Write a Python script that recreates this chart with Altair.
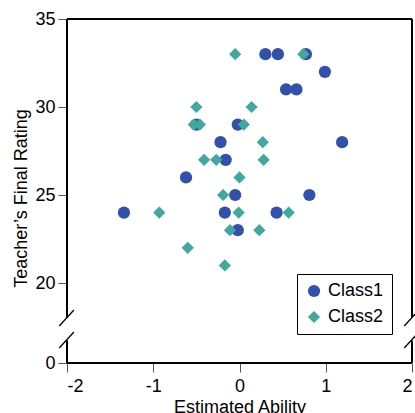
import altair as alt
import pandas as pd

# ---- data ----
class1_x = [0.30, 0.445, 0.77, 0.99, 0.54, 0.66, -0.50, -0.02, -0.22, 1.19,
            -0.16, -0.62, -0.05, 0.81, -0.17, 0.43, -1.34, -0.02]
class1_y = [33, 33, 33, 32, 31, 31, 29, 29, 28, 28,
            27, 26, 25, 25, 24, 24, 24, 23]
class2_x = [-0.05, 0.74, -0.50, 0.14, -0.53, -0.46, 0.05, 0.27, -0.41, -0.27,
            0.28, 0.00, -0.19, -0.01, 0.57, -0.93, -0.11, 0.23, -0.60, -0.17]
class2_y = [33, 33, 30, 30, 29, 29, 29, 28, 27, 27,
            27, 26, 25, 24, 24, 24, 23, 23, 22, 21]
classes = ["Class1", "Class2"]
x_ticks = [-2, -1, 0, 1, 2]
y_ticks = [0, 20, 25, 30, 35]

BLUE = "#3350ad"
TEAL = "#40a89f"
FONT = "Liberation Sans"

df = pd.DataFrame({
    "x": class1_x + class2_x,
    "y": class1_y + class2_y,
    "cls": [classes[0]] * len(class1_x) + [classes[1]] * len(class2_x),
})

xscale = alt.Scale(domain=[-2, 2], nice=False, zero=False)
# broken axis: 0..20 compressed
yscale = alt.Scale(domain=[0, 20, 35], range=[344, 264, 0], nice=False, zero=False)

xaxis = alt.Axis(values=x_ticks, domain=False, grid=False, tickSize=9, tickColor="#555",
                 labelFontSize=18, labelFont=FONT, labelColor="black", labelPadding=5,
                 labelExpr="datum.value < 0 ? '-' + abs(datum.value) : '' + datum.value",
                 title="Estimated Ability", titleFont=FONT, titleFontSize=18,
                 titleFontWeight="normal", titleColor="black", titleY=35)
yaxis = alt.Axis(values=y_ticks, domain=False, grid=False, tickSize=9, tickColor="#555",
                 labelFontSize=18, labelFont=FONT, labelColor="black", labelPadding=3,
                 title="Teacher’s Final Rating", titleFont=FONT, titleFontSize=18,
                 titleFontWeight="normal", titleColor="black", titleX=-37, titleY=179)

legend = alt.Legend(title=None, orient="none", legendX=230, legendY=255,
                    fillColor="white", strokeColor="black", padding=8,
                    labelFontSize=18, labelFont=FONT, labelColor="black",
                    symbolSize=150, rowPadding=8, labelOffset=5, symbolStrokeWidth=0)

points = alt.Chart(df).mark_point(filled=True, opacity=1, size=150).encode(
    x=alt.X("x:Q", scale=xscale, axis=xaxis),
    y=alt.Y("y:Q", scale=yscale, axis=yaxis),
    color=alt.Color("cls:N", scale=alt.Scale(domain=classes, range=[BLUE, TEAL]), legend=legend),
    shape=alt.Shape("cls:N", scale=alt.Scale(domain=classes, range=["circle", "diamond"]), legend=legend),
    order=alt.Order("cls:N"),
)

# frame with axis breaks (in data units)
frame = pd.DataFrame({
    "x":  [-2, -2, -2, 2, 2, -2, -2.09, -2.09, 1.91, 1.91],
    "x2": [2, 2, -2, 2, 2, -2, -1.92, -1.92, 2.08, 2.08],
    "y":  [0, 35, 11.25, 11.25, 0, 0, 9.25, 3.75, 9.25, 3.75],
    "y2": [0, 35, 35, 35, 5.6, 5.6, 13.25, 7.75, 13.25, 7.75],
    "w":  [2, 2, 2, 2, 2, 2, 1.3, 1.3, 1.3, 1.3],
})

rules = alt.Chart(frame).mark_rule(color="black").encode(
    x=alt.X("x:Q", scale=xscale),
    x2="x2:Q",
    y=alt.Y("y:Q", scale=yscale),
    y2="y2:Q",
    strokeWidth=alt.StrokeWidth("w:Q", scale=None),
)

chart = alt.layer(points, rules).properties(
    width=345, height=344,
    autosize=alt.AutoSizeParams(type="none"),
    padding={"left": 67, "top": 19, "right": 3, "bottom": 50},
    background="white",
).configure_view(stroke=None)

chart.save("out.html", embed_options={"renderer": "svg", "actions": False})
